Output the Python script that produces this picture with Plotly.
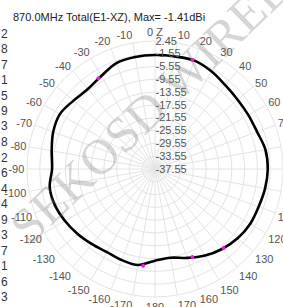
import plotly.graph_objects as go

# ---------------- data ----------------
title_text = "870.0MHz Total(E1-XZ), Max= -1.41dBi"

theta_deg = [0, 10, 20, 30, 40, 50, 60, 70, 80, 90, 100, 110, 120, 130, 140, 150, 160, 170,
             180, 190, 200, 210, 220, 230, 240, 250, 260, 270, 280, 290, 300, 310, 320, 330, 340, 350, 360]
gain_dbi = [-1.94, -1.85, -1.50, -2.31, -3.38, -3.85, -3.85, -3.60, -2.52, -2.31, -2.61, -3.08,
            -3.23, -3.85, -4.92, -6.30, -7.98, -9.40, -8.90, -7.07, -7.23, -7.54, -6.92, -6.00,
            -5.08, -4.30, -4.15, -5.38, -4.77, -3.69, -3.23, -4.30, -4.92, -4.00, -2.31, -2.00, -1.94]

marker_theta = [19, 328, 139, 157, 187]
marker_gain = [-1.52, -4.15, -4.85, -7.65, -7.10]

radial_tickvals = [2.45, -1.55, -5.55, -9.55, -13.55, -17.55, -21.55, -25.55, -29.55, -33.55, -37.55]
radial_ticktext = ["2.45", "-1.55", "-5.55", "-9.55", "-13.55", "-17.55", "-21.55", "-25.55",
                   "-29.55", "-33.55", "-37.55"]

angle_tickvals = [0, 10, 20, 30, 40, 50, 60, 70, 80, 90, 100, 110, 120, 130, 140, 150, 160, 170,
                  180, 190, 200, 210, 220, 230, 240, 250, 260, 270, 280, 290, 300, 310, 320, 330, 340, 350]
angle_ticktext = ["0 Z", "10", "20", "30", "40", "50", "60", "70", "80", "90", "100", "110", "120",
                  "130", "140", "150", "160", "170", "180", "-170", "-160", "-150", "-140", "-130",
                  "-120", "-110", "-100", "-90", "-80", "-70", "-60", "-50", "-40", "-30", "-20", "-10"]

side_digits = ["2", "8", "7", "1", "5", "9", "3", "8", "2", "6", "4", "4", "9", "3", "7", "1", "6", "3"]

watermark = "SEKOSD WIRELESS"

# ---------------- layout constants ----------------
W, H = 283, 307
cx, cy, R = 155, 169, 128

fig = go.Figure()
fig.add_trace(go.Scatterpolar(
    r=gain_dbi, theta=theta_deg, mode="lines",
    line=dict(color="black", width=2.6, shape="spline", smoothing=1.0),
    hoverinfo="skip", showlegend=False))
fig.add_trace(go.Scatterpolar(
    r=marker_gain, theta=marker_theta, mode="markers",
    marker=dict(color="#e81ee0", size=4),
    hoverinfo="skip", showlegend=False))

grid = "#e4e4e4"
fig.update_layout(
    width=W, height=H,
    margin=dict(l=0, r=0, t=0, b=0),
    paper_bgcolor="white",
    font=dict(family="Liberation Sans, Arial, sans-serif", size=11, color="#555555"),
    polar=dict(
        domain=dict(x=[(cx - R) / W, min(1.0, (cx + R) / W)],
                    y=[(H - cy - R) / H, (H - cy + R) / H]),
        bgcolor="white",
        radialaxis=dict(
            range=[-37.55, 2.45], tickvals=radial_tickvals, ticktext=radial_ticktext,
            angle=90, tickangle=90, side="clockwise",
            showline=False, ticks="", gridcolor=grid, gridwidth=1,
            tickfont=dict(size=11, color="#555555")),
        angularaxis=dict(
            direction="clockwise", rotation=90,
            tickvals=angle_tickvals, ticktext=angle_ticktext,
            ticks="", showline=True, linecolor=grid, gridcolor=grid, gridwidth=1,
            tickfont=dict(size=11, color="#555555")),
    ),
)

annotations = [dict(
    text=title_text, xref="paper", yref="paper", x=11 / W, y=1 - 17 / H,
    xanchor="left", yanchor="middle", showarrow=False,
    font=dict(size=11, color="#222222", family="Liberation Sans, Arial, sans-serif"))]

for i, d in enumerate(side_digits):
    annotations.append(dict(
        text=d, xref="paper", yref="paper", x=-1 / W, y=1 - (33.5 + 15.5 * i) / H,
        xanchor="left", yanchor="middle", showarrow=False,
        font=dict(size=12, color="#333333")))

annotations.append(dict(
    text=watermark, xref="paper", yref="paper", x=180 / W, y=1 - 78 / H,
    xanchor="center", yanchor="middle", showarrow=False, textangle=-44,
    font=dict(size=50, color="rgba(120,120,120,0.30)", family="Liberation Serif, Times New Roman, serif")))

fig.update_layout(annotations=annotations)

fig.write_html("out.html",
               config={"displayModeBar": False},
               post_script="document.body.style.margin='0px';document.body.style.padding='0px';")
